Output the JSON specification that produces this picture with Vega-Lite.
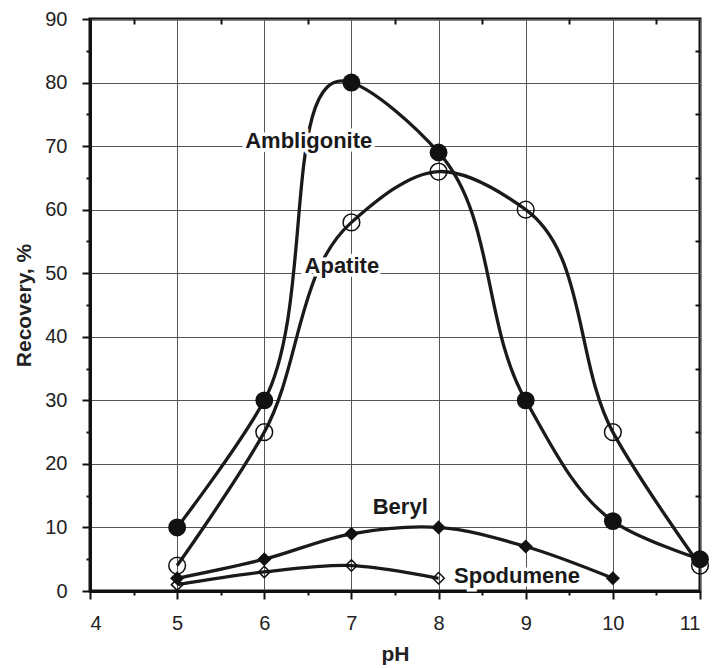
{
  "$schema": "https://vega.github.io/schema/vega-lite/v6.json",
  "width": 610,
  "height": 572,
  "autosize": "none",
  "padding": {"left": 90, "top": 19, "right": 12, "bottom": 77},
  "background": "white",
  "config": {
    "view": {"stroke": "#111", "strokeWidth": 3},
    "font": "Liberation Sans",
    "axis": {
      "domainColor": "#111",
      "domainWidth": 3,
      "tickColor": "#111",
      "tickWidth": 2,
      "gridColor": "#555",
      "gridWidth": 1,
      "labelFont": "Liberation Sans",
      "labelFontSize": 20,
      "labelColor": "#222",
      "titleFont": "Liberation Sans",
      "titleFontSize": 21,
      "titleFontWeight": "bold",
      "titleColor": "#222"
    }
  },
  "data": {
    "values": [
      {"series": "Ambligonite", "pH": 5, "recovery": 10},
      {"series": "Ambligonite", "pH": 6, "recovery": 30},
      {"series": "Ambligonite", "pH": 7, "recovery": 80},
      {"series": "Ambligonite", "pH": 8, "recovery": 69},
      {"series": "Ambligonite", "pH": 9, "recovery": 30},
      {"series": "Ambligonite", "pH": 10, "recovery": 11},
      {"series": "Ambligonite", "pH": 11, "recovery": 5},
      {"series": "Apatite", "pH": 5, "recovery": 4},
      {"series": "Apatite", "pH": 6, "recovery": 25},
      {"series": "Apatite", "pH": 7, "recovery": 58},
      {"series": "Apatite", "pH": 8, "recovery": 66},
      {"series": "Apatite", "pH": 9, "recovery": 60},
      {"series": "Apatite", "pH": 10, "recovery": 25},
      {"series": "Apatite", "pH": 11, "recovery": 4},
      {"series": "Beryl", "pH": 5, "recovery": 2},
      {"series": "Beryl", "pH": 6, "recovery": 5},
      {"series": "Beryl", "pH": 7, "recovery": 9},
      {"series": "Beryl", "pH": 8, "recovery": 10},
      {"series": "Beryl", "pH": 9, "recovery": 7},
      {"series": "Beryl", "pH": 10, "recovery": 2},
      {"series": "Spodumene", "pH": 5, "recovery": 1},
      {"series": "Spodumene", "pH": 6, "recovery": 3},
      {"series": "Spodumene", "pH": 7, "recovery": 4},
      {"series": "Spodumene", "pH": 8, "recovery": 2}
    ]
  },
  "resolve": {"axis": {"x": "independent", "y": "independent"}},
  "layer": [
    {
      "encoding": {
        "x": {
          "field": "pH", "type": "quantitative",
          "scale": {"domain": [4, 11], "nice": false, "zero": false},
          "axis": {
            "title": "pH",
            "values": [4, 4.5, 5, 5.5, 6, 6.5, 7, 7.5, 8, 8.5, 9, 9.5, 10, 10.5, 11],
            "labelExpr": "datum.value % 1 === 0 ? format(datum.value, 'd') : ''",
            "tickSize": {"condition": {"test": "datum.value % 1 === 0", "value": 8}, "value": 4},
            "gridOpacity": {"condition": {"test": "datum.value % 1 === 0", "value": 1}, "value": 0},
            "labelPadding": 14,
            "titlePadding": 10,
            "grid": true
          }
        },
        "y": {
          "field": "recovery", "type": "quantitative",
          "scale": {"domain": [0, 90], "nice": false},
          "axis": {
            "title": "Recovery, %",
            "values": [0, 5, 10, 15, 20, 25, 30, 35, 40, 45, 50, 55, 60, 65, 70, 75, 80, 85, 90],
            "labelExpr": "datum.value % 10 === 0 ? datum.label : ''",
            "tickSize": {"condition": {"test": "datum.value % 10 === 0", "value": 8}, "value": 4},
            "gridOpacity": {"condition": {"test": "datum.value % 10 === 0", "value": 1}, "value": 0},
            "labelPadding": 15,
            "titlePadding": 10,
            "grid": true
          }
        }
      },
      "layer": [
        {
          "mark": {"type": "line", "interpolate": "catmull-rom", "tension": 1, "strokeWidth": 3.3, "color": "#1a1a1a"},
          "encoding": {"detail": {"field": "series"}}
        },
        {
          "transform": [{"filter": "datum.series === 'Ambligonite'"}],
          "mark": {"type": "point", "shape": "circle", "filled": true, "size": 320, "color": "#111", "opacity": 1}
        },
        {
          "transform": [{"filter": "datum.series === 'Apatite'"}],
          "mark": {"type": "point", "shape": "circle", "filled": false, "size": 280, "stroke": "#111", "strokeWidth": 1.5, "opacity": 1}
        },
        {
          "transform": [{"filter": "datum.series === 'Beryl'"}],
          "mark": {"type": "point", "shape": "diamond", "filled": true, "size": 200, "color": "#111", "opacity": 1}
        },
        {
          "transform": [{"filter": "datum.series === 'Spodumene'"}],
          "mark": {"type": "point", "shape": "diamond", "filled": false, "size": 130, "stroke": "#111", "strokeWidth": 1.5, "opacity": 1}
        },
        {
          "data": {"values": [
            {"label": "Ambligonite", "pH": 6.51, "recovery": 70.8},
            {"label": "Apatite", "pH": 6.89, "recovery": 51.2},
            {"label": "Beryl", "pH": 7.56, "recovery": 13.2},
            {"label": "Spodumene", "pH": 8.9, "recovery": 2.4}
          ]},
          "layer": [
            {
              "mark": {"type": "text", "font": "Liberation Sans", "fontSize": 22, "fontWeight": "bold", "stroke": "white", "strokeWidth": 7, "fill": "white", "baseline": "middle", "align": "center"},
              "encoding": {"text": {"field": "label"}}
            },
            {
              "mark": {"type": "text", "font": "Liberation Sans", "fontSize": 22, "fontWeight": "bold", "fill": "#1a1a1a", "baseline": "middle", "align": "center"},
              "encoding": {"text": {"field": "label"}}
            }
          ]
        }
      ]
    },
    {
      "mark": {"type": "point", "opacity": 0},
      "encoding": {
        "x": {
          "field": "pH", "type": "quantitative",
          "axis": {
            "orient": "top", "title": null, "labels": false, "domain": false, "grid": false,
            "values": [4.5, 5.5, 6.5, 7.5, 8.5, 9.5, 10.5],
            "tickSize": -5
          }
        },
        "y": {
          "field": "recovery", "type": "quantitative",
          "axis": {
            "orient": "right", "title": null, "labels": false, "domain": false, "grid": false,
            "values": [5, 15, 25, 35, 45, 55, 65, 75, 85],
            "tickSize": -5
          }
        }
      }
    }
  ]
}
